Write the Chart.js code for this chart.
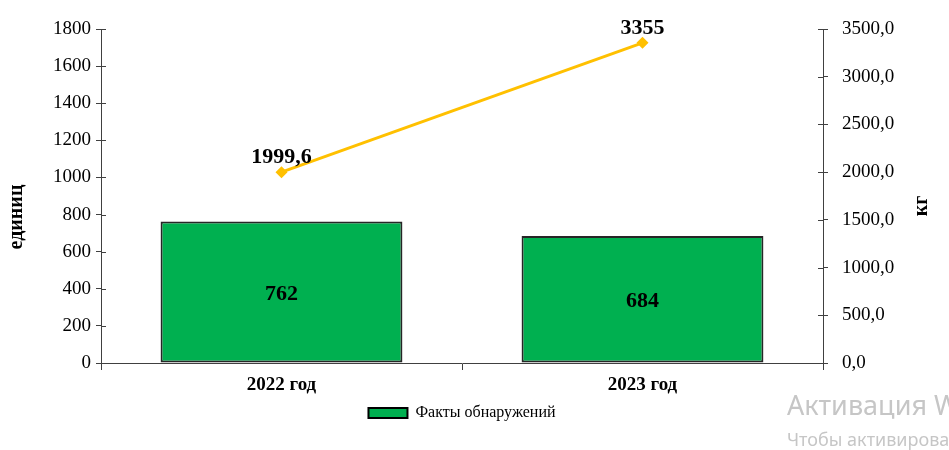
<!DOCTYPE html>
<html>
<head>
<meta charset="utf-8">
<script src="https://cdn.jsdelivr.net/npm/chart.js@4/dist/chart.umd.min.js"></script>
<style>
  body { margin: 0; background: #fff; }
  #wrap { position: relative; width: 949px; height: 450px; overflow: hidden; }
  .wm { position: absolute; left: 787px; color: #c6c6c6; font-family: "Noto Sans", "Open Sans", sans-serif; white-space: nowrap; }
</style>
</head>
<body>
<div id="wrap">
  <canvas id="chart"></canvas>
  <div class="wm" style="top:386px;font-size:27px;">Активация Windows</div>
  <div class="wm" style="top:427px;font-size:18px;">Чтобы активировать Windows</div>
</div>
<script>
const categorias = ['2022 год', '2023 год'];
const fatos = [762, 684];
const quilos = [1999.6, 3355];
const rotulosQuilos = ['1999,6', '3355'];

const fonte = '"Liberation Serif", "Times New Roman", serif';
const corEixo = '#404040';

function formatarKg(v) {
  return v.toFixed(1).replace('.', ',');
}

// rótulos de valor sobre barras e pontos
const rotulos = {
  id: 'rotulos',
  afterDatasetsDraw(chart) {
    const ctx = chart.ctx;
    ctx.save();
    ctx.fillStyle = '#000';
    ctx.textAlign = 'center';
    ctx.font = 'bold 22px ' + fonte;

    const barras = chart.getDatasetMeta(1);
    barras.data.forEach((bar, i) => {
      ctx.textBaseline = 'middle';
      ctx.fillText(String(fatos[i]), bar.x, (bar.y + bar.base) / 2 + 2);
    });

    const linha = chart.getDatasetMeta(0);
    linha.data.forEach((p, i) => {
      ctx.textBaseline = 'alphabetic';
      ctx.fillText(rotulosQuilos[i], p.x, p.y - 9);
    });
    ctx.restore();
  }
};

// marcas que cruzam os eixos e títulos dos eixos
const eixos = {
  id: 'eixos',
  afterDraw(chart) {
    const ctx = chart.ctx;
    const s = chart.scales;
    ctx.save();
    ctx.strokeStyle = corEixo;
    ctx.lineWidth = 1;
    ctx.beginPath();
    s.y.ticks.forEach(t => {
      const y = Math.round(s.y.getPixelForValue(t.value)) + 0.5;
      ctx.moveTo(s.y.right, y);
      ctx.lineTo(s.y.right + 5, y);
    });
    s.y1.ticks.forEach(t => {
      const y = Math.round(s.y1.getPixelForValue(t.value)) + 0.5;
      ctx.moveTo(s.y1.left - 5, y);
      ctx.lineTo(s.y1.left, y);
    });
    ctx.stroke();

    ctx.fillStyle = '#000';
    ctx.font = 'bold 20px ' + fonte;
    ctx.textAlign = 'center';
    ctx.textBaseline = 'middle';

    ctx.save();
    ctx.translate(17, 217);
    ctx.rotate(-Math.PI / 2);
    ctx.fillText('единиц', 0, 0);
    ctx.restore();

    ctx.translate(922, 206);
    ctx.rotate(-Math.PI / 2);
    ctx.fillText('кг', 0, 0);
    ctx.restore();
  }
};

const ctx = document.getElementById('chart').getContext('2d');
new Chart(ctx, {
  data: {
    labels: categorias,
    datasets: [
      {
        type: 'line',
        label: 'кг',
        data: quilos,
        yAxisID: 'y1',
        borderColor: '#FFC000',
        backgroundColor: '#FFC000',
        borderWidth: 3,
        pointStyle: 'rectRot',
        pointRadius: 6,
        pointHoverRadius: 6,
        pointBorderWidth: 0,
        tension: 0
      },
      {
        type: 'bar',
        label: 'Факты обнаружений',
        data: fatos,
        yAxisID: 'y',
        backgroundColor: '#00B050',
        borderColor: '#262626',
        borderWidth: 2,
        borderSkipped: false,
        categoryPercentage: 0.67,
        barPercentage: 1
      }
    ]
  },
  options: {
    responsive: true,
    maintainAspectRatio: false,
    animation: false,
    layout: { padding: { top: 29, left: 0, right: 0, bottom: 19 } },
    plugins: {
      tooltip: { enabled: false },
      legend: {
        position: 'bottom',
        fullSize: false,
        labels: {
          font: { family: fonte, size: 16 },
          color: '#000',
          boxWidth: 39,
          boxHeight: 10,
          padding: 6,
          generateLabels: chart => [{
            text: 'Факты обнаружений',
            fillStyle: '#00B050',
            strokeStyle: '#000',
            lineWidth: 2,
            datasetIndex: 1,
            fontColor: '#000'
          }]
        }
      }
    },
    scales: {
      x: {
        grid: {
          offset: true,
          drawOnChartArea: false,
          color: corEixo,
          tickLength: 7,
          tickColor: corEixo
        },
        border: { color: corEixo },
        ticks: {
          color: '#000',
          font: { family: fonte, size: 19, weight: 'bold' },
          padding: 4
        },
        afterFit: scale => { scale.height = 36; }
      },
      y: {
        position: 'left',
        min: 0,
        max: 1800,
        ticks: {
          stepSize: 200,
          color: '#000',
          font: { family: fonte, size: 19 },
          padding: 5,
          callback: v => String(v)
        },
        grid: { drawOnChartArea: false, tickLength: 5, tickColor: corEixo },
        border: { color: corEixo },
        afterFit: scale => { scale.width = 101; }
      },
      y1: {
        position: 'right',
        min: 0,
        max: 3500,
        ticks: {
          stepSize: 500,
          color: '#000',
          font: { family: fonte, size: 19 },
          padding: 14,
          callback: v => formatarKg(v)
        },
        grid: { drawOnChartArea: false, tickLength: 5, tickColor: corEixo },
        border: { color: corEixo },
        afterFit: scale => { scale.width = 126; }
      }
    }
  },
  plugins: [rotulos, eixos]
});
</script>
</body>
</html>
